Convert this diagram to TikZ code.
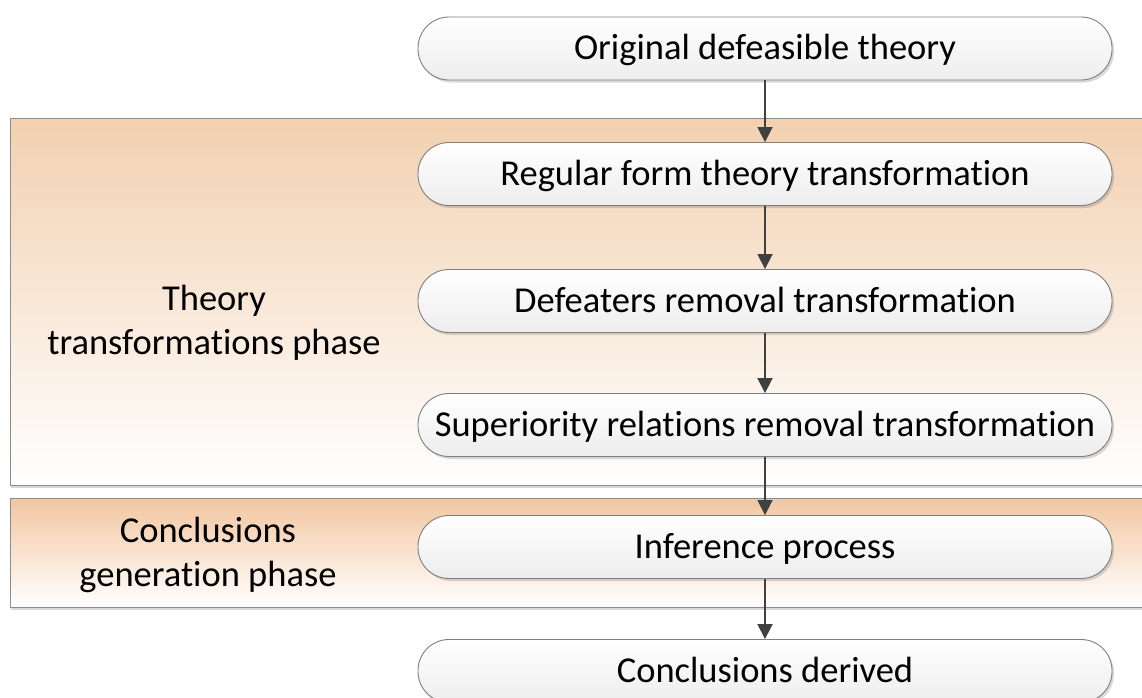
\documentclass[tikz,border=0pt]{standalone}
\usepackage{fontspec}
\setmainfont{Carlito}[RawFeature={-liga;-clig;-calt;-dlig;-rlig}]
\usetikzlibrary{arrows.meta,shadows}
\definecolor{bandtopA}{HTML}{F2D0B0}
\definecolor{bandtopB}{HTML}{F2C6A0}
\definecolor{bandedge}{HTML}{8C8C8C}
\definecolor{stepedge}{HTML}{7F7F7F}
\definecolor{stepbottom}{HTML}{EDEDED}
\definecolor{linkcol}{HTML}{404040}
\tikzset{
  band/.style={draw=bandedge, line width=0.9pt, bottom color=white,
    drop shadow={shadow xshift=1pt, shadow yshift=-2.5pt, opacity=0.25, fill=black!60}},
  stepbox/.style={draw=stepedge, line width=0.9pt, rounded corners=31pt,
    minimum width=694pt, minimum height=63pt, top color=white, bottom color=stepbottom,
    drop shadow={shadow xshift=2pt, shadow yshift=-2.5pt, opacity=0.25, fill=black!60},
    font=\fontsize{36.5}{44}\selectfont, inner sep=0pt, text depth=0.3em},
  phaselabel/.style={align=center, font=\fontsize{36.5}{44}\selectfont},
  link/.style={draw=linkcol, line width=1.8pt, -{Triangle[length=15pt,width=15pt]}},
}
\begin{document}
\begin{tikzpicture}[x=1pt,y=-1pt]
\useasboundingbox (0,0) rectangle (1142,697);
\clip (0,0) rectangle (1142,697);

% phase bands
\path[band, top color=bandtopA] (10,118) rectangle (1160,485);
\path[band, top color=bandtopB] (10,498) rectangle (1160,607);

% phase captions
\node[phaselabel] (phaseA) at (214,323) {Theory\\transformations phase};
\node[phaselabel] (phaseB) at (208,555) {Conclusions\\generation phase};

% process steps
\node[stepbox] (orig) at (765,48.5) {Original defeasible theory};
\node[stepbox] (reg)  at (765,174)  {Regular form theory transformation};
\node[stepbox] (def)  at (765,301)  {Defeaters removal transformation};
\node[stepbox] (sup)  at (765,425)  {Superiority relations removal transformation};
\node[stepbox] (inf)  at (765,547)  {Inference process};
\node[stepbox] (conc) at (765,671)  {Conclusions derived};

% flow between steps
\draw[link] (orig) -- (reg);
\draw[link] (reg) -- (def);
\draw[link] (def) -- (sup);
\draw[link] (sup) -- (inf);
\draw[link] (inf) -- (conc);
\end{tikzpicture}
\end{document}
